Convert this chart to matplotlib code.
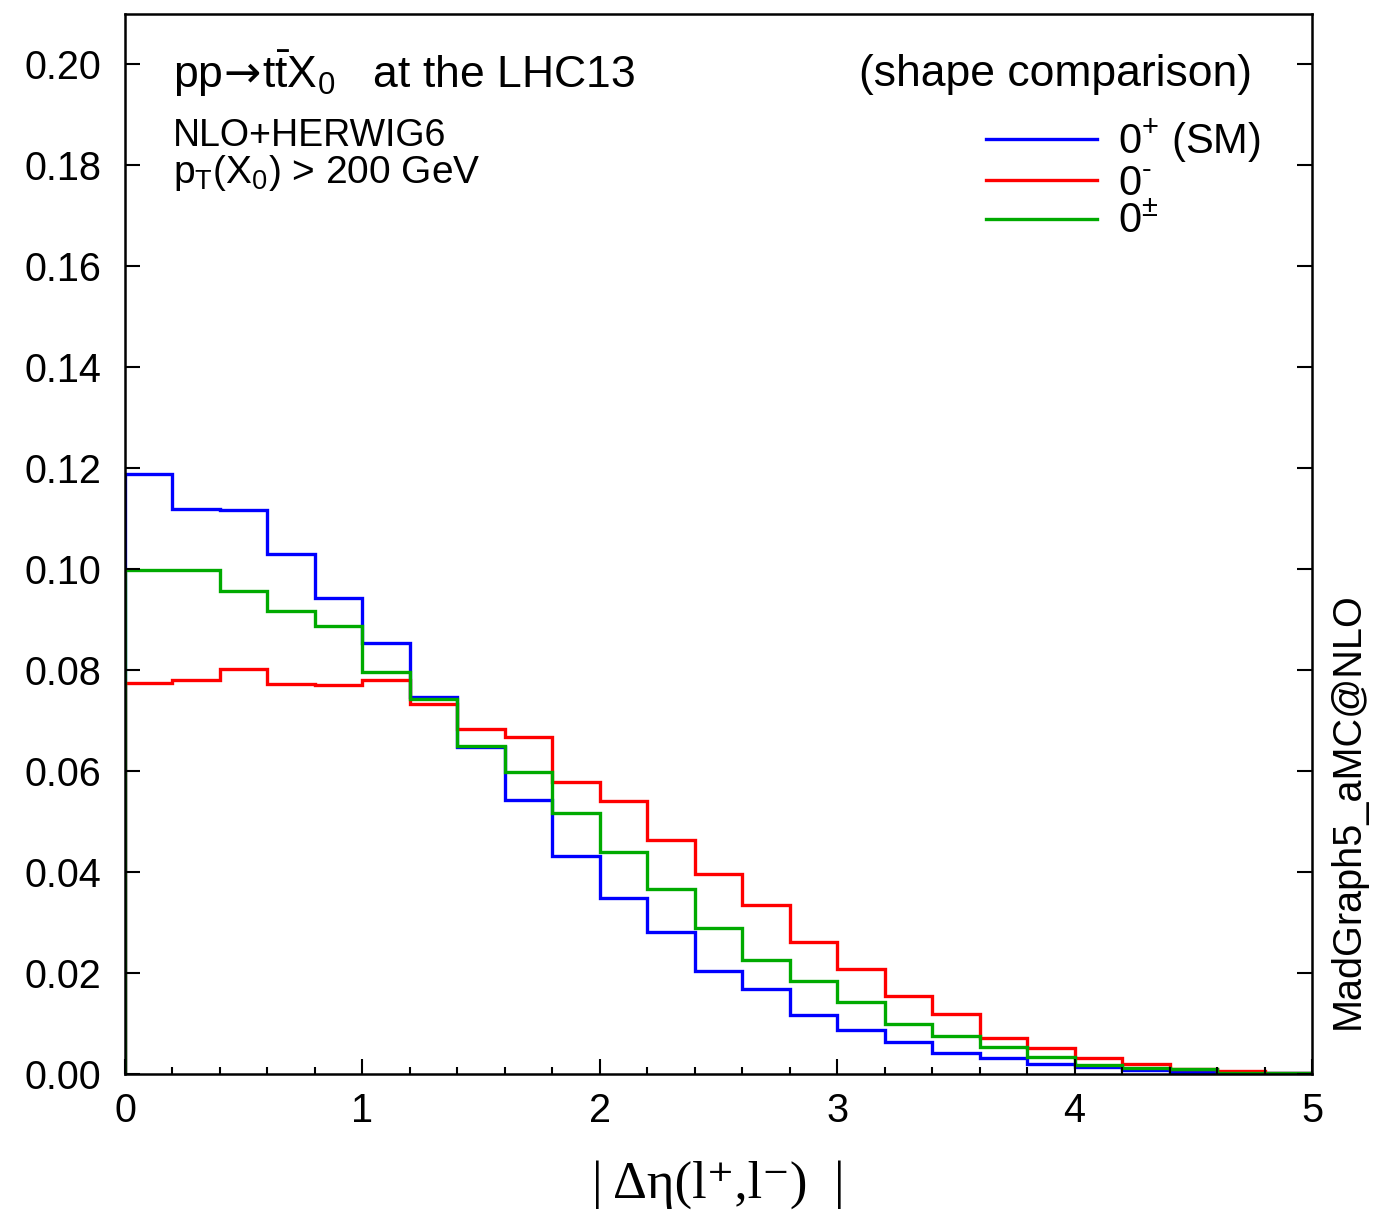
import numpy as np
import matplotlib
matplotlib.use("Agg")
import matplotlib.pyplot as plt
from matplotlib.lines import Line2D

plt.rcParams['font.family'] = ['Liberation Sans', 'DejaVu Sans']
plt.rcParams['mathtext.fontset'] = 'custom'
plt.rcParams['mathtext.rm'] = 'Liberation Sans'
plt.rcParams['mathtext.it'] = 'Liberation Sans:italic'
plt.rcParams['mathtext.bf'] = 'Liberation Sans:bold'
plt.rcParams['mathtext.sf'] = 'DejaVu Sans'

# ---- data ----
bin_edges = np.round(np.arange(0, 5.0001, 0.2), 2)
sm_0plus = [0.1189, 0.1120, 0.1118, 0.1031, 0.0943, 0.0854, 0.0747, 0.0648,
            0.0543, 0.0432, 0.0349, 0.0281, 0.0204, 0.0168, 0.0117, 0.0087,
            0.0063, 0.0042, 0.0032, 0.0020, 0.0013, 0.0007, 0.0004, 0.0002, 0.0001]
odd_0minus = [0.0774, 0.0781, 0.0802, 0.0772, 0.0771, 0.0781, 0.0734, 0.0684,
              0.0667, 0.0579, 0.0540, 0.0464, 0.0396, 0.0335, 0.0261, 0.0208,
              0.0155, 0.0119, 0.0071, 0.0052, 0.0032, 0.0019, 0.0009, 0.0005, 0.0002]
mixed_0pm = [0.0999, 0.0999, 0.0957, 0.0918, 0.0888, 0.0797, 0.0743, 0.0649,
             0.0599, 0.0518, 0.0439, 0.0366, 0.0290, 0.0226, 0.0184, 0.0142,
             0.0099, 0.0075, 0.0054, 0.0033, 0.0018, 0.0012, 0.0009, 0.0002, 0.0001]
series_labels = [r'0$^{+}$ (SM)', r'0$^{\text{-}}$', r'0$^{\pm}$']
y_ticks = np.round(np.arange(0, 0.2001, 0.02), 2)
x_ticks = [0, 1, 2, 3, 4, 5]

colors = ['#0000ff', '#ff0000', '#00aa00']
lw = 2.4

fig = plt.figure(figsize=(13.89, 12.11), dpi=100)
ax = fig.add_axes([125/1389, 1 - 1074/1211, (1312-125)/1389, (1074-14)/1211])

for vals, c, lab in zip([sm_0plus, odd_0minus, mixed_0pm], colors, series_labels):
    ax.stairs(vals, bin_edges, color=c, linewidth=lw, label=lab, baseline=0)

ax.set_xlim(0, 5)
ax.set_ylim(0, 0.21)
ax.set_xticks(x_ticks)
ax.set_xticks(bin_edges, minor=True)
ax.set_yticks(y_ticks)
ax.set_yticklabels([f'{v:.2f}' for v in y_ticks])
ax.tick_params(axis='both', which='major', direction='in', length=11, width=1.5,
               labelsize=28.5)
ax.tick_params(axis='x', which='major', pad=13)
ax.tick_params(axis='y', which='major', pad=17, right=True)
ax.tick_params(axis='x', which='minor', direction='in', length=5, width=1.5)
ax.tick_params(axis='y', which='minor', left=False, right=False)
for s in ax.spines.values():
    s.set_linewidth(1.8)

ax.set_xlabel('| Δη(l⁺,l⁻)  |', family=['Liberation Serif', 'DejaVu Serif'],
              fontsize=38, labelpad=22)

ax.text(0.0404, 0.930, r'pp$\!\mathsf{\rightarrow}\!$t$\bar{\mathrm{t}}$X$_0$   at the LHC13',
        transform=ax.transAxes, fontsize=32, va='baseline', ha='left')
ax.text(0.9494, 0.932, '(shape comparison)', transform=ax.transAxes,
        fontsize=32, va='baseline', ha='right')
ax.text(0.0404, 0.8755, 'NLO+HERWIG6', transform=ax.transAxes,
        fontsize=27, va='baseline', ha='left')
ax.text(0.0404, 0.8406, r'p$_\mathrm{T}$(X$_0$) > 200 GeV', transform=ax.transAxes,
        fontsize=28, va='baseline', ha='left')

leg_handles = [Line2D([], [], color=c, linewidth=lw) for c in colors]
ax.legend(leg_handles, series_labels, loc='upper left', bbox_to_anchor=(0.7254, 0.902),
          frameon=False, fontsize=30, handlelength=2.66, handletextpad=0.5,
          labelspacing=-0.04, borderpad=0, borderaxespad=0)

fig.text(0.9705, 0.3303, 'MadGraph5_aMC@NLO', rotation=90, fontsize=28.5,
         ha='center', va='center')

fig.savefig('out.png', dpi=100)
